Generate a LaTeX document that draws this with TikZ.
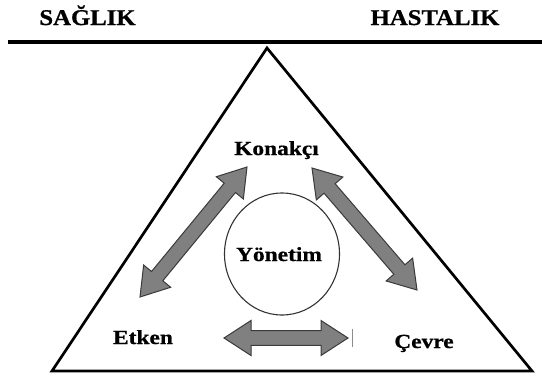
\documentclass[tikz,border=0pt]{standalone}
\usepackage{fontspec}
\usetikzlibrary{calc,shapes.geometric}
\newfontfamily\headfont{Liberation Serif}[FakeStretch=1.1, FakeBold=0.8]
\newfontfamily\labfont{Liberation Serif}[FakeStretch=1.17, FakeBold=0.8]
\definecolor{arrowfill}{HTML}{808080}
\definecolor{arrowedge}{HTML}{3A3A3A}
\tikzset{
  header/.style={anchor=base, inner sep=0pt, font=\headfont\bfseries\fontsize{22.5}{27}\selectfont},
  label/.style={anchor=base, inner sep=0pt, font=\labfont\bfseries\fontsize{20}{24}\selectfont},
  blockarrow/.style={fill=arrowfill, draw=arrowedge, line width=1pt, line join=miter},
}
% double-headed block arrow between two named points
\newcommand\twowayarrow[2]{%
  \draw[blockarrow]
    (#1)
    -- ($($(#1)!27pt!(#2)$)!17.5pt!90:(#2)$)
    -- ($($(#1)!27pt!(#2)$)!7.3pt!90:(#2)$)
    -- ($($(#2)!27pt!(#1)$)!7.3pt!-90:(#1)$)
    -- ($($(#2)!27pt!(#1)$)!17.5pt!-90:(#1)$)
    -- (#2)
    -- ($($(#2)!27pt!(#1)$)!17.5pt!90:(#1)$)
    -- ($($(#2)!27pt!(#1)$)!7.3pt!90:(#1)$)
    -- ($($(#1)!27pt!(#2)$)!7.3pt!-90:(#2)$)
    -- ($($(#1)!27pt!(#2)$)!17.5pt!-90:(#2)$)
    -- cycle;}
\begin{document}
\begin{tikzpicture}[x=1pt,y=-1pt]
  \useasboundingbox[fill=white] (0,0) rectangle (542,381);

  % balance beam and its headings
  \coordinate (beamL) at (8,42);
  \coordinate (beamR) at (542,42);
  \draw[line width=3.8pt] (beamL) -- (beamR);
  \node[header] (saglik) at (87.5,25) {SAĞLIK};
  \node[header] (hastalik) at (435,25) {HASTALIK};

  % supporting triangle
  \coordinate (apex) at (267,48);
  \coordinate (baseL) at (52,371);
  \coordinate (baseR) at (532,371);
  \draw[line width=2.7pt, line join=miter] (apex) -- (baseL) -- (baseR) -- cycle;

  % central management circle
  \node[draw=black!80, line width=1.1pt, ellipse, minimum width=115pt, minimum height=122pt, inner sep=0pt] (circ) at (282,254) {};
  \node[label] (yonetim) at (279,261) {Yönetim};

  % corner labels
  \node[label] (konakci) at (276.5,155) {Konakçı};
  \node[label] (etken) at (143,344) {Etken};
  \node[label] (cevre) at (424,348) {Çevre};

  % interaction arrows
  \coordinate (kL) at (247,167);
  \coordinate (eU) at (140,297);
  \coordinate (kR) at (312,168);
  \coordinate (cU) at (417,290);
  \coordinate (eR) at (224,338);
  \coordinate (cL) at (348,338);
  \twowayarrow{eU}{kL}
  \twowayarrow{kR}{cU}
  \twowayarrow{eR}{cL}

  % thin mark beside the lower arrow
  \coordinate (markT) at (352,329);
  \coordinate (markB) at (352,347);
  \draw[black!45, line width=0.8pt] (markT) -- (markB);
\end{tikzpicture}
\end{document}
